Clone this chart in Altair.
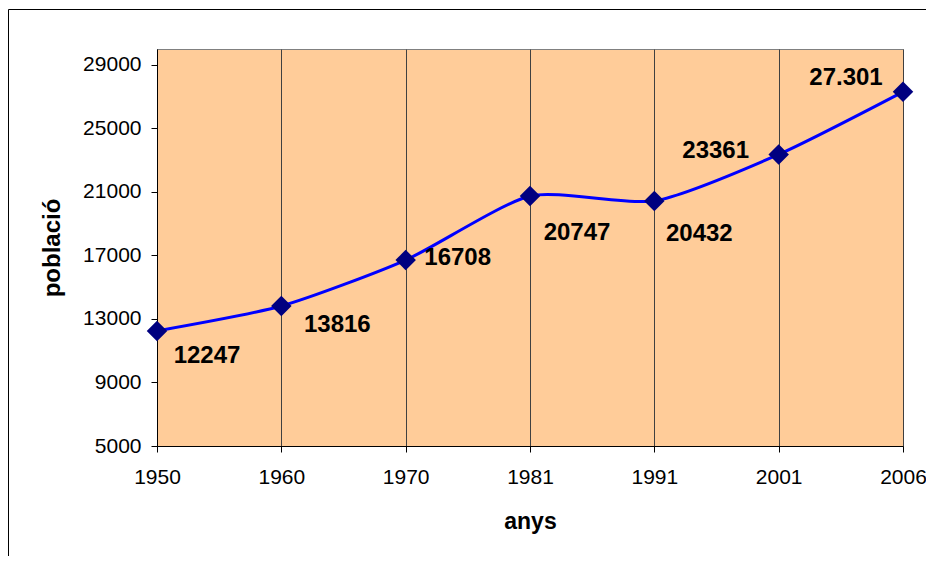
import altair as alt
import pandas as pd

years = ["1950", "1960", "1970", "1981", "1991", "2001", "2006"]
population = [12247, 13816, 16708, 20747, 20432, 23361, 27301]
labels = ["12247", "13816", "16708", "20747", "20432", "23361", "27.301"]
y_ticks = [5000, 9000, 13000, 17000, 21000, 25000, 29000]

df = pd.DataFrame({"year": years, "pop": population, "label": labels})

# label offsets (dx, dy) relative to each point
label_offsets = [(50, 25), (56, 19), (52, -2), (47, 37), (45, 33), (-63, -3), (-57, -14)]

W, H = 746, 397
FONT = "Liberation Sans"

x_enc = alt.X(
    "year:O",
    sort=years,
    scale=alt.Scale(type="point", padding=0),
    axis=alt.Axis(
        title="anys",
        labelAngle=0,
        labelFont="Liberation Sans Narrow, Liberation Sans",
        labelFontSize=21,
        labelColor="black",
        labelPadding=14,
        tickSize=6,
        tickColor="black",
        domainColor="black",
        grid=True,
        gridColor="#404040",
        gridWidth=1,
        titleFont=FONT,
        titleFontSize=23,
        titleFontWeight="bold",
        titleColor="black",
        titleY=75,
        titleBaseline="middle",
    ),
)
y_enc = alt.Y(
    "pop:Q",
    scale=alt.Scale(domain=[5000, 30000], nice=False, zero=False),
    axis=alt.Axis(
        title="població",
        values=y_ticks,
        format="d",
        labelFont=FONT,
        labelFontSize=21,
        labelColor="black",
        labelPadding=10,
        tickSize=6,
        tickColor="black",
        domainColor="black",
        grid=False,
        titleFont=FONT,
        titleFontSize=24,
        titleFontWeight="bold",
        titleColor="black",
        titleAngle=270,
        titleX=-105,
        titleY=H / 2,
        titleAlign="center",
        titleBaseline="middle",
    ),
)

base = alt.Chart(df)

line = base.mark_line(
    color="#0000FF", strokeWidth=3, interpolate="cardinal", tension=0.35
).encode(x=x_enc, y=y_enc)
points = base.mark_point(
    shape="diamond", filled=True, size=420, color="#000080", opacity=1
).encode(x=alt.X("year:O", sort=years), y="pop:Q")

texts = []
for yr, (ddx, ddy) in zip(years, label_offsets):
    texts.append(
        base.transform_filter(alt.datum.year == yr)
        .mark_text(
            font=FONT,
            fontSize=24,
            fontWeight="bold",
            color="black",
            align="center",
            baseline="middle",
            dx=ddx,
            dy=ddy,
        )
        .encode(x=alt.X("year:O", sort=years), y="pop:Q", text="label:N")
    )

frame_df = pd.DataFrame({"k": [0]})
left_border = alt.Chart(frame_df).mark_rule(color="black", strokeWidth=1).encode(
    x=alt.value(-148.5), y=alt.value(-39.5), y2=alt.value(H + 200)
)
top_border = alt.Chart(frame_df).mark_rule(color="black", strokeWidth=1).encode(
    x=alt.value(-148.5), x2=alt.value(W + 40), y=alt.value(-39.5)
)

chart = (
    alt.layer(line, points, *texts, left_border, top_border)
    .properties(
        width=W,
        height=H,
        autosize=alt.AutoSizeParams(type="none"),
        padding={"left": 149, "top": 41, "right": 23, "bottom": 110},
        background="white",
    )
    .configure_view(fill="#FFCC99", stroke="#808080", strokeWidth=1)
)

chart.save("out.html", embed_options={"renderer": "svg", "actions": False})
